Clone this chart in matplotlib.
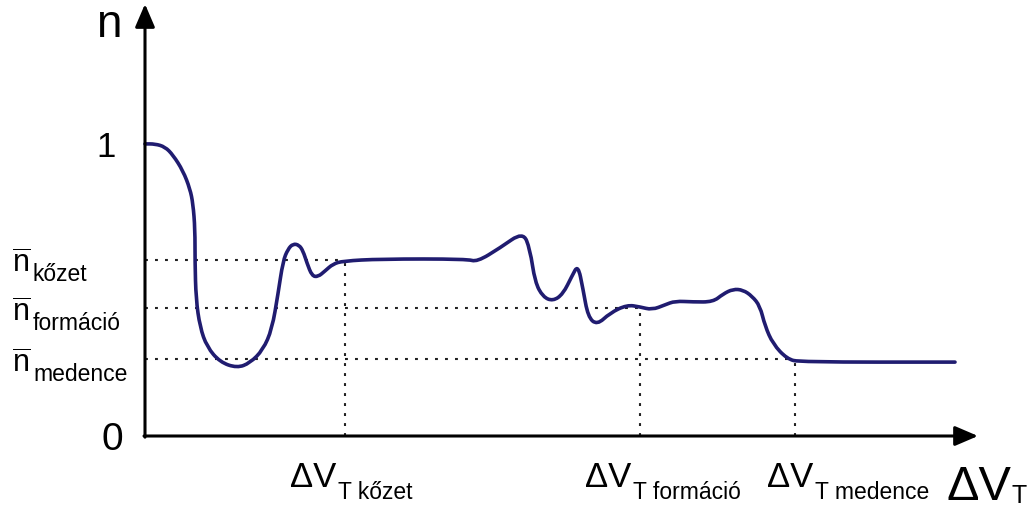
import matplotlib
matplotlib.use('Agg')
from matplotlib import pyplot as plt
from matplotlib.path import Path
from matplotlib.patches import PathPatch

plt.rcParams['font.family'] = ['Liberation Sans', 'DejaVu Sans']
plt.rcParams['mathtext.fontset'] = 'custom'
plt.rcParams['mathtext.rm'] = 'Liberation Sans'
plt.rcParams['mathtext.it'] = 'Liberation Sans:italic'
plt.rcParams['mathtext.bf'] = 'Liberation Sans:bold'

# n(ΔV_T) curve
curve_dv = [0, 10, 20, 28, 38, 45, 48, 50, 50, 51, 55, 62, 75, 92, 105, 118,
            127, 133, 138, 143, 148, 154, 158, 162, 167, 173, 180, 188, 198,
            235, 322, 332, 355, 378, 385, 390, 398, 408, 418, 427, 433, 438,
            443, 452, 465, 482, 495, 507, 520, 530, 548, 568, 578, 588, 598,
            607, 615, 620, 628, 642, 655, 810]
curve_n = [1.000, 1.000, 0.990, 0.962, 0.908, 0.846, 0.795, 0.709, 0.596,
           0.469, 0.373, 0.305, 0.253, 0.233, 0.250, 0.295, 0.366, 0.486,
           0.599, 0.640, 0.658, 0.654, 0.634, 0.592, 0.548, 0.545, 0.565,
           0.589, 0.599, 0.606, 0.606, 0.596, 0.644, 0.699, 0.640, 0.527,
           0.476, 0.462, 0.486, 0.548, 0.586, 0.503, 0.408, 0.380, 0.421,
           0.449, 0.442, 0.432, 0.449, 0.462, 0.459, 0.459, 0.486, 0.503,
           0.500, 0.479, 0.445, 0.377, 0.315, 0.264, 0.253, 0.253]

# mean n values and threshold ΔV_T for each scale
scales = ['kőzet', 'formáció', 'medence']
n_mean = [0.603, 0.438, 0.262]
dv_thresh = [200, 495, 650]

W, H = 1032, 510
fig = plt.figure(figsize=(W / 100, H / 100), dpi=100)
ax = fig.add_axes([145 / W, 73 / H, 833 / W, 432 / H])
ax.set_xlim(0, 833)
ax.set_ylim(0, 1.479)
ax.set_axis_off()

dot_style = dict(color='#222222', lw=1.5, linestyle=(0, (1.4, 3.4)), clip_on=False)
for n, dv in zip(n_mean, dv_thresh):
    ax.plot([0, dv], [n, n], **dot_style)
    ax.plot([dv, dv], [0, n], **dot_style)


def smooth_path(xs, ys):
    # quadratic bezier through segment midpoints, corners used as controls
    pts = list(zip(xs, ys))
    mids = [((a[0] + b[0]) / 2, (a[1] + b[1]) / 2) for a, b in zip(pts[:-1], pts[1:])]
    verts = [pts[0], mids[0]]
    codes = [Path.MOVETO, Path.LINETO]
    for p, m in zip(pts[1:-1], mids[1:]):
        verts += [p, m]
        codes += [Path.CURVE3, Path.CURVE3]
    verts.append(pts[-1])
    codes.append(Path.LINETO)
    return Path(verts, codes)


ax.add_patch(PathPatch(smooth_path(curve_dv, curve_n), fill=False, edgecolor='#201c70',
                       lw=2.6, joinstyle='round', capstyle='round', clip_on=False, zorder=3))

arrow = dict(arrowstyle='-|>,head_length=1.4,head_width=0.6', lw=2.2,
             color='black', shrinkA=0, shrinkB=0)
ax.annotate('', xy=(833, 0), xytext=(-1, 0), arrowprops=arrow, annotation_clip=False)
ax.annotate('', xy=(0, 1.479), xytext=(0, -0.004), arrowprops=arrow, annotation_clip=False)


def put(x, y, s, size, **kw):
    # place text by pixel position (top-left origin), baseline aligned
    fig.text(x / W, 1 - y / H, s, fontsize=size, va='baseline', **kw)


put(96, 37, 'n', 33)
put(116, 157, '1', 25, ha='right')
put(123, 450, '0', 28, ha='right')

for i, name in enumerate(scales):
    base = [273, 322, 373][i]
    put(12, base, r'$\overline{\mathrm{n}}$', 22)
    put(33, base + 8, name, 16.5)

for name, x in zip(scales, [290, 585, 767]):
    put(x, 487, 'ΔV', 25)
    put(x + 48, 499, 'T ' + name, 16.5)

put(946, 500, 'ΔV', 35)
put(1011, 503, 'T', 18)

fig.savefig('out.png', dpi=100)
